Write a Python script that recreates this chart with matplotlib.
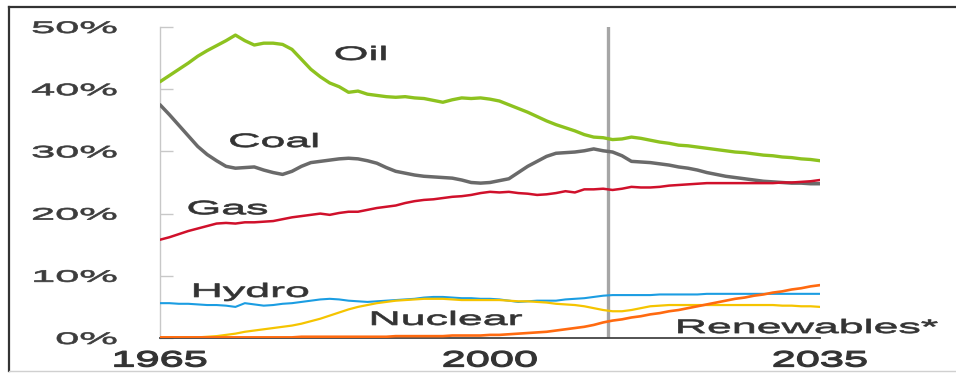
import matplotlib
matplotlib.use('Agg')
import matplotlib.pyplot as plt
from matplotlib import patheffects
from matplotlib.transforms import Affine2D
from matplotlib.lines import Line2D

# share of primary energy, % (history to 2012, outlook to 2035)
years = list(range(1965, 2036))

oil = [41.2, 42.2, 43.2, 44.2, 45.3, 46.2, 47.0, 47.8, 48.7, 47.8,   # 1965-74
       47.1, 47.4, 47.4, 47.2, 46.4, 44.8, 43.2, 42.0, 41.0, 40.4,   # 1975-84
       39.5, 39.7, 39.2, 39.0, 38.8, 38.7, 38.8, 38.6, 38.5, 38.2,   # 1985-94
       37.9, 38.3, 38.6, 38.5, 38.6, 38.4, 38.1, 37.5, 36.9, 36.3,   # 1995-04
       35.6, 34.9, 34.3, 33.8, 33.3, 32.7, 32.3, 32.2, 31.9, 32.0,   # 2005-14
       32.3, 32.1, 31.8, 31.5, 31.3, 31.0, 30.9, 30.7, 30.5, 30.3,   # 2015-24
       30.1, 29.9, 29.8, 29.6, 29.4, 29.3, 29.1, 29.0, 28.8, 28.7,   # 2025-34
       28.5]

coal = [37.5, 35.9, 34.2, 32.5, 30.8, 29.5, 28.5, 27.6, 27.3, 27.4,
        27.5, 27.0, 26.6, 26.3, 26.8, 27.6, 28.2, 28.4, 28.6, 28.8,
        28.9, 28.8, 28.5, 28.1, 27.4, 26.8, 26.5, 26.2, 26.0, 25.9,
        25.8, 25.7, 25.4, 25.0, 24.9, 25.0, 25.3, 25.6, 26.6, 27.6,
        28.4, 29.2, 29.7, 29.8, 29.9, 30.1, 30.4, 30.1, 29.9, 29.3,
        28.4, 28.3, 28.2, 28.0, 27.8, 27.5, 27.3, 27.0, 26.6, 26.3,
        26.0, 25.8, 25.6, 25.4, 25.2, 25.1, 25.0, 24.9, 24.9, 24.8,
        24.8]

gas = [15.8, 16.2, 16.7, 17.2, 17.6, 18.0, 18.4, 18.5, 18.4, 18.6,
       18.6, 18.7, 18.8, 19.1, 19.4, 19.6, 19.8, 20.0, 19.8, 20.1,
       20.3, 20.3, 20.6, 20.9, 21.1, 21.3, 21.7, 22.0, 22.2, 22.3,
       22.5, 22.7, 22.8, 23.0, 23.3, 23.5, 23.4, 23.5, 23.3, 23.2,
       23.0, 23.1, 23.3, 23.6, 23.4, 23.9, 23.9, 24.0, 23.8, 24.0,
       24.3, 24.2, 24.2, 24.3, 24.5, 24.6, 24.7, 24.8, 24.9, 24.9,
       24.9, 24.9, 24.9, 24.9, 24.9, 24.9, 25.0, 25.0, 25.1, 25.2,
       25.4]

hydro = [5.6, 5.6, 5.5, 5.5, 5.4, 5.3, 5.3, 5.2, 5.0, 5.6,
         5.4, 5.2, 5.3, 5.5, 5.6, 5.8, 6.0, 6.2, 6.3, 6.2,
         6.0, 5.9, 5.8, 5.9, 6.0, 6.1, 6.2, 6.3, 6.5, 6.6,
         6.6, 6.5, 6.4, 6.4, 6.3, 6.3, 6.2, 6.0, 5.8, 5.9,
         6.0, 6.0, 6.0, 6.2, 6.3, 6.4, 6.6, 6.8, 6.9, 6.9,
         6.9, 6.9, 6.9, 7.0, 7.0, 7.0, 7.0, 7.0, 7.1, 7.1,
         7.1, 7.1, 7.1, 7.1, 7.1, 7.1, 7.1, 7.1, 7.1, 7.1,
         7.1]

nuclear = [0.1, 0.1, 0.1, 0.1, 0.1, 0.2, 0.3, 0.5, 0.7, 1.0,
           1.2, 1.4, 1.6, 1.8, 2.0, 2.3, 2.7, 3.1, 3.6, 4.1,
           4.6, 5.0, 5.3, 5.6, 5.8, 6.0, 6.1, 6.2, 6.3, 6.3,
           6.3, 6.2, 6.1, 6.1, 6.1, 6.1, 6.1, 6.0, 5.9, 5.9,
           5.8, 5.7, 5.5, 5.4, 5.3, 5.1, 4.8, 4.5, 4.3, 4.3,
           4.5, 4.8, 5.1, 5.2, 5.3, 5.3, 5.3, 5.3, 5.3, 5.3,
           5.3, 5.3, 5.3, 5.3, 5.3, 5.3, 5.2, 5.2, 5.1, 5.1,
           5.0]

renewables = [0.1, 0.1, 0.1, 0.1, 0.1, 0.1, 0.1, 0.1, 0.1, 0.1,
              0.1, 0.1, 0.1, 0.1, 0.1, 0.2, 0.2, 0.2, 0.2, 0.2,
              0.2, 0.2, 0.2, 0.2, 0.2, 0.3, 0.3, 0.3, 0.3, 0.3,
              0.3, 0.4, 0.4, 0.4, 0.4, 0.5, 0.5, 0.6, 0.7, 0.8,
              0.9, 1.0, 1.2, 1.4, 1.6, 1.8, 2.1, 2.5, 2.8, 3.0,
              3.3, 3.5, 3.8, 4.0, 4.3, 4.5, 4.8, 5.1, 5.4, 5.7,
              6.0, 6.3, 6.5, 6.8, 7.0, 7.3, 7.5, 7.8, 8.0, 8.3,
              8.5]

names = ['Oil', 'Coal', 'Gas', 'Hydro', 'Nuclear', 'Renewables*']
yticks = [0, 10, 20, 30, 40, 50]
ytick_labels = ['0%', '10%', '20%', '30%', '40%', '50%']
xticks = [1965, 2000, 2035]
outlook_year = 2012.5


class Stretch(patheffects.AbstractPathEffect):
    """Draws text paths widened horizontally around their anchor,
    with an optional outline to thicken the strokes."""

    def __init__(self, sx, ha='center', weight=0.0):
        super().__init__()
        self.sx = sx
        self.ha = ha
        self.weight = weight

    def draw_path(self, renderer, gc, tpath, affine, rgbFace=None):
        ext = tpath.get_extents()
        if self.ha == 'left':
            x0 = ext.x0
        elif self.ha == 'right':
            x0 = ext.x1
        else:
            x0 = (ext.x0 + ext.x1) / 2
        widen = Affine2D().translate(-x0, 0).scale(self.sx, 1).translate(x0, 0)
        gc.set_linewidth(self.weight)
        renderer.draw_path(gc, tpath, widen + affine, rgbFace)


plt.rcParams['font.family'] = ['Liberation Sans', 'DejaVu Sans']
txt_color = '#333333'

fig = plt.figure(figsize=(9.56, 3.78), dpi=100)
ax = fig.add_axes([160 / 956, 40 / 378, 660 / 956, 311 / 378])
ax.set_xlim(1965, 2035)
ax.set_ylim(0, 50)

# history / outlook divider
ax.axvline(outlook_year, color='#a6a6a6', lw=2.4, zorder=1)

series = [
    (hydro, '#1b9de2', 1.5),
    (nuclear, '#f5c400', 1.6),
    (renewables, '#ff6a10', 1.9),
    (coal, '#6a6a6a', 2.5),
    (gas, '#d0102b', 1.8),
    (oil, '#8dc21f', 2.4),
]
for vals, col, lw in series:
    ax.plot(years, vals, color=col, lw=lw, solid_capstyle='round', zorder=3)

# series names written next to their lines
label_pos = {
    'Oil': (1986.3, 44.7),
    'Coal': (1977.1, 30.7),
    'Gas': (1972.2, 19.9),
    'Hydro': (1974.65, 6.6),
    'Nuclear': (1995.4, 2.1),
    'Renewables*': (2033.7, 0.8),
}
for name in names:
    x, y = label_pos[name]
    ax.text(x, y, name, ha='center', va='baseline', fontsize=14,
            color=txt_color, zorder=2,
            path_effects=[Stretch(2.3, 'center', 0.5)])

ax.set_yticks(yticks, labels=ytick_labels)
ax.set_xticks(xticks, labels=[str(t) for t in xticks])
ax.tick_params(axis='y', direction='in', length=9, width=1, color='#c8c8c8',
               pad=31, labelsize=12, labelcolor='#3c3c3c')
ax.tick_params(axis='x', length=0, pad=9, labelsize=16, labelcolor='#333333')
for t in ax.get_yticklabels():
    t.set_path_effects([Stretch(2.6, 'right', 0.5)])
for t in ax.get_xticklabels():
    t.set_path_effects([Stretch(1.95, 'center', 0.9)])

for side in ['top', 'right']:
    ax.spines[side].set_visible(False)
ax.spines['left'].set_color('#c8c8c8')
ax.spines['left'].set_linewidth(1)
ax.spines['bottom'].set_color('#444444')
ax.spines['bottom'].set_linewidth(1.3)

# outer frame
fx = 9 / 956
fy_top = 1 - 7 / 378
fy_bot = 1 - 371 / 378
fig.add_artist(Line2D([fx, fx], [fy_bot, fy_top], color='#333333', lw=1.6))
fig.add_artist(Line2D([fx, 1.0], [fy_top, fy_top], color='#333333', lw=1.6))
fig.add_artist(Line2D([fx, 1.0], [fy_bot, fy_bot], color='#d0d0d0', lw=1.0))

fig.savefig('out.png', dpi=100)
